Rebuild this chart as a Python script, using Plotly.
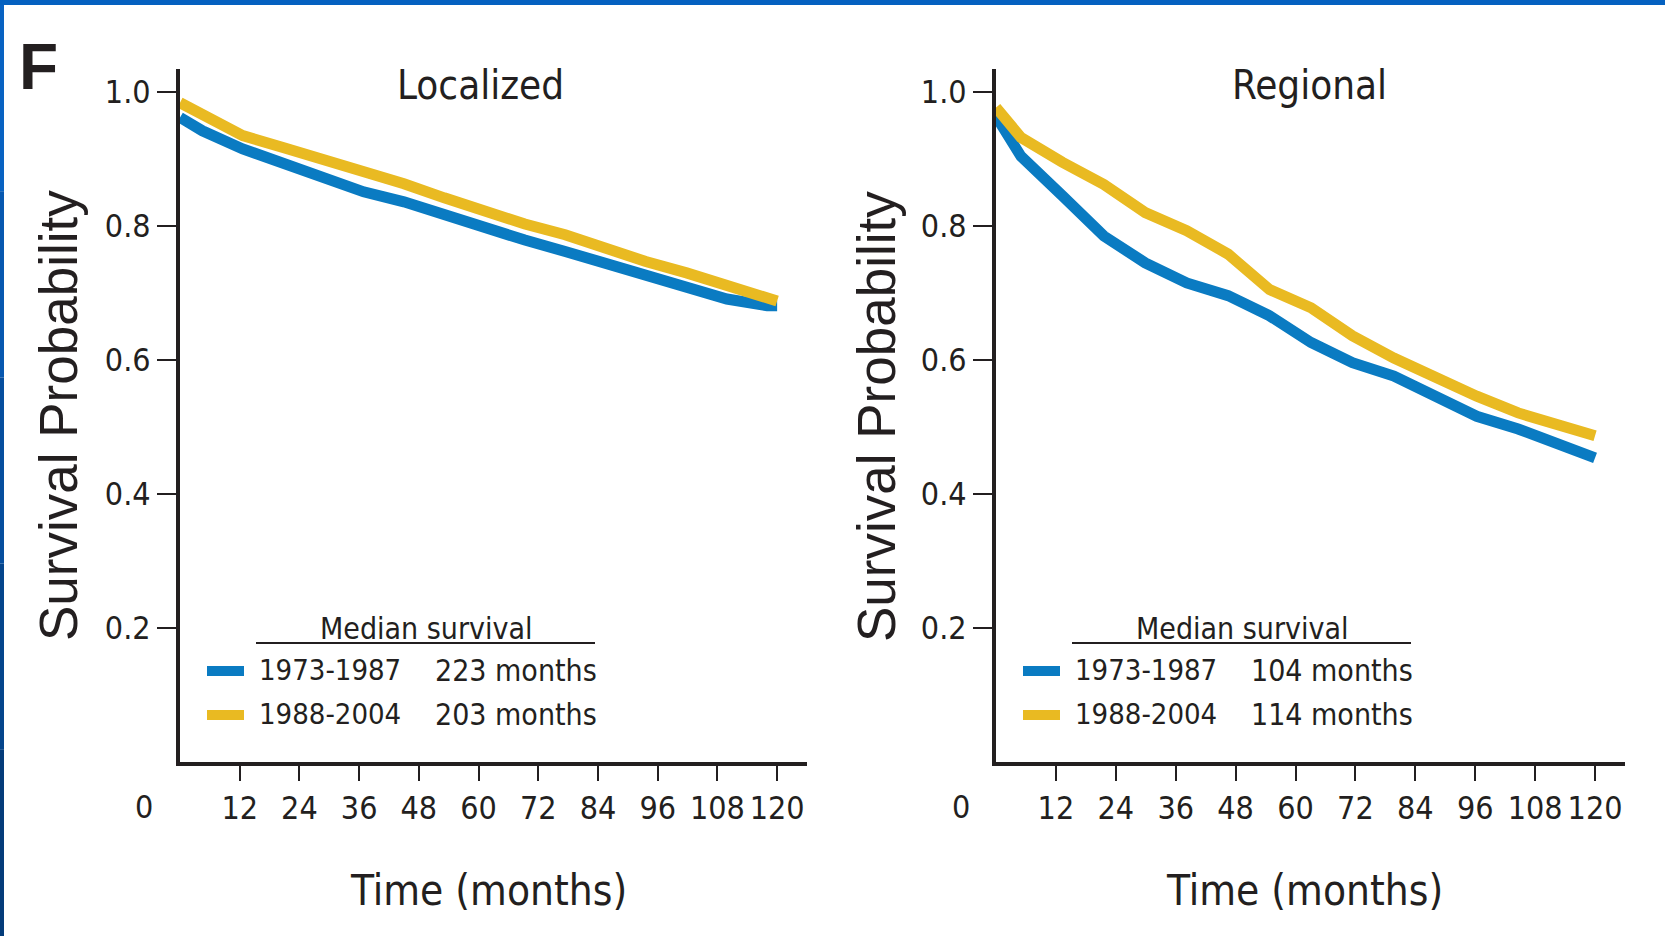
import plotly.graph_objects as go

# ---------------- data ----------------
loc_t_yellow = [0, 4.5, 12.6, 20.7, 28.8, 36.9, 45.0, 53.1, 61.2, 69.3, 77.4, 85.5, 93.6, 101.8, 109.9, 118.0, 120]
loc_s_yellow = [0.984, 0.965, 0.935, 0.917, 0.900, 0.882, 0.863, 0.842, 0.821, 0.803, 0.787, 0.766, 0.747, 0.730, 0.713, 0.693, 0.688]
loc_t_blue = [0, 4.5, 12.6, 20.7, 28.8, 36.9, 45.0, 53.1, 61.2, 69.3, 77.4, 85.5, 93.6, 101.8, 109.9, 118.0, 120]
loc_s_blue = [0.962, 0.942, 0.915, 0.895, 0.873, 0.851, 0.836, 0.816, 0.797, 0.779, 0.762, 0.745, 0.728, 0.708, 0.691, 0.681, 0.681]

reg_t_yellow = [0, 5.0, 13.3, 21.6, 29.9, 38.2, 46.5, 54.8, 63.1, 71.4, 79.7, 88.0, 96.3, 104.6, 113.0, 120]
reg_s_yellow = [0.977, 0.932, 0.895, 0.862, 0.820, 0.793, 0.758, 0.705, 0.678, 0.636, 0.603, 0.574, 0.546, 0.521, 0.501, 0.487]
reg_t_blue = [0, 5.0, 13.3, 21.6, 29.9, 38.2, 46.5, 54.8, 63.1, 71.4, 79.7, 88.0, 96.3, 104.6, 113.0, 120]
reg_s_blue = [0.964, 0.904, 0.845, 0.785, 0.745, 0.715, 0.696, 0.666, 0.626, 0.596, 0.576, 0.546, 0.516, 0.497, 0.472, 0.454]

x_ticks = [12, 24, 36, 48, 60, 72, 84, 96, 108, 120]
y_ticks = [0.2, 0.4, 0.6, 0.8, 1.0]
y_tick_text = ["0.2", "0.4", "0.6", "0.8", "1.0"]

periods = ["1973-1987", "1988-2004"]
panel_titles = ["Localized", "Regional"]
medians = [["223 months", "203 months"], ["104 months", "114 months"]]

# ---------------- style ----------------
W, H = 1665, 936
BLUE = "#0A7BC2"
YELLOW = "#E9BA22"
INK = "#231F20"
NARROW = "DejaVu Sans Condensed, Liberation Sans Narrow, Liberation Sans, sans-serif"
SANS = "Liberation Sans, Arial, sans-serif"


def px(x):
    return x / W


def py(y):
    return 1 - y / H


fig = go.Figure()

series = [
    (loc_t_blue, loc_s_blue, BLUE, "x", "y"),
    (loc_t_yellow, loc_s_yellow, YELLOW, "x", "y"),
    (reg_t_blue, reg_s_blue, BLUE, "x2", "y2"),
    (reg_t_yellow, reg_s_yellow, YELLOW, "x2", "y2"),
]
for t, s, c, xa, ya in series:
    fig.add_trace(go.Scatter(x=t, y=s, mode="lines", xaxis=xa, yaxis=ya,
                             line=dict(color=c, width=11), showlegend=False,
                             hoverinfo="skip"))

ydom = [py(762), py(69)]
xdoms = [[px(180), px(807)], [px(996), px(1625)]]

axis_common = dict(showgrid=False, zeroline=False, showline=True, linecolor=INK,
                   linewidth=4, ticks="outside", tickcolor=INK, tickwidth=2)
xtick_font = dict(family=NARROW, size=32, color=INK)
ytick_font = dict(family=NARROW, size=32, color=INK)

fig.update_layout(
    width=W, height=H,
    margin=dict(l=0, r=0, t=0, b=0),
    paper_bgcolor="white", plot_bgcolor="white",
    xaxis=dict(domain=xdoms[0], range=[0, 126], tickvals=x_ticks, ticklen=15, tickangle=0,
               tickfont=xtick_font, anchor="y", **axis_common),
    yaxis=dict(domain=ydom, range=[0, 1.0343], tickvals=y_ticks, ticktext=y_tick_text, ticklen=19,
               tickfont=ytick_font, anchor="x", **axis_common),
    xaxis2=dict(domain=xdoms[1], range=[0, 126], tickvals=x_ticks, ticklen=15, tickangle=0,
                tickfont=xtick_font, anchor="y2", **axis_common),
    yaxis2=dict(domain=ydom, range=[0, 1.0343], tickvals=y_ticks, ticktext=y_tick_text, ticklen=19,
                tickfont=ytick_font, anchor="x2", **axis_common),
)

ann = []
shapes = []

# panel letter
ann.append(dict(x=px(38), y=py(67), text="<b>F</b>", showarrow=False, xref="paper", yref="paper",
                xanchor="center", yanchor="middle", font=dict(family=SANS, size=64, color=INK)))

offsets = [0, 816]
for i, off in enumerate(offsets):
    # panel title
    ann.append(dict(x=px(481 + off + (12 if i == 1 else 0)), y=py(85), text=panel_titles[i], showarrow=False,
                    xref="paper", yref="paper", xanchor="center", yanchor="middle",
                    font=dict(family=NARROW, size=40, color=INK)))
    # y title
    ann.append(dict(x=px(58 + off + (2 if i == 1 else 0)), y=py(416), text="Survival Probability", textangle=-90,
                    showarrow=False, xref="paper", yref="paper", xanchor="center", yanchor="middle",
                    font=dict(family=SANS, size=53, color=INK)))
    # x title
    ann.append(dict(x=px(488 + off), y=py(890), text="Time (months)", showarrow=False,
                    xref="paper", yref="paper", xanchor="center", yanchor="middle",
                    font=dict(family=NARROW, size=42, color=INK)))
    # origin "0"
    ann.append(dict(x=px(144 + off + (1 if i == 1 else 0)), y=py(807), text="0", showarrow=False,
                    xref="paper", yref="paper", xanchor="center", yanchor="middle",
                    font=xtick_font))
    # legend header
    ann.append(dict(x=px(425 + off + 1), y=py(628), text="Median survival", showarrow=False,
                    xref="paper", yref="paper", xanchor="center", yanchor="middle",
                    font=dict(family=NARROW, size=30, color=INK)))
    shapes.append(dict(type="line", xref="paper", yref="paper",
                       x0=px(256 + off), x1=px(595 + off), y0=py(643), y1=py(643),
                       line=dict(color=INK, width=2)))
    for j, (col, yy) in enumerate([(BLUE, 671), (YELLOW, 715)]):
        shapes.append(dict(type="rect", xref="paper", yref="paper",
                           x0=px(207 + off), x1=px(244 + off), y0=py(yy + 5), y1=py(yy - 5),
                           fillcolor=col, line=dict(width=0)))
        ann.append(dict(x=px(257 + off), y=py(yy - 1), text=periods[j], showarrow=False,
                        xref="paper", yref="paper", xanchor="left", yanchor="middle",
                        font=dict(family=NARROW, size=29, color=INK)))
        ann.append(dict(x=px(433 + off), y=py(yy - 1), text=medians[i][j], showarrow=False,
                        xref="paper", yref="paper", xanchor="left", yanchor="middle",
                        font=dict(family=NARROW, size=30, color=INK)))

# blue frame (top and left edges)
shapes.append(dict(type="rect", xref="paper", yref="paper", x0=0, x1=1, y0=py(5), y1=1,
                   fillcolor="#0561C0", line=dict(width=0), layer="above"))
left_cols = ["#0862C2", "#0758B0", "#064E9E", "#05458C", "#043C7A"]
n = len(left_cols)
for k, c in enumerate(left_cols):
    shapes.append(dict(type="rect", xref="paper", yref="paper", x0=0, x1=px(4),
                       y0=py(5 + (k + 1) * (H - 5) / n), y1=py(5 + k * (H - 5) / n),
                       fillcolor=c, line=dict(width=0), layer="above"))

fig.update_layout(annotations=ann, shapes=shapes)
fig.write_html("out.html", config={"displayModeBar": False},
               post_script="document.body.style.margin='0';document.body.style.padding='0';"
                           "document.body.style.overflow='hidden';")
